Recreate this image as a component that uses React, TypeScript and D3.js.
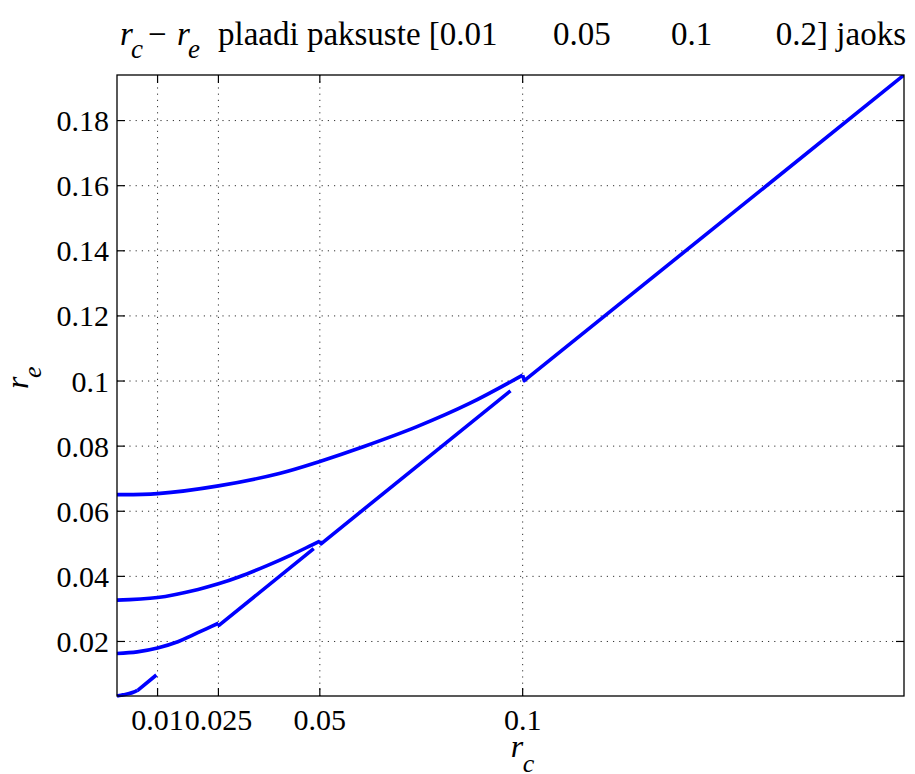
import React from 'react';
import * as d3 from 'd3';

// plate thicknesses t, one r_c - r_e curve each
const thicknesses = [0.01, 0.05, 0.1, 0.2];

// curved part (r_c < t/2) and straight part (r_c >= t/2)
const rcCurveT001 = [0, 0.001, 0.002, 0.003, 0.004, 0.005];
const reCurveT001 = [0.00325, 0.0035, 0.0037, 0.004, 0.0044, 0.005];
const rcLineT001 = [0.0051, 0.0097];
const reLineT001 = [0.005, 0.0097];

const rcCurveT005 = [0, 0.005, 0.01, 0.015, 0.0184, 0.022, 0.025];
const reCurveT005 = [0.0163, 0.0168, 0.018, 0.0199, 0.0218, 0.0239, 0.0256];
const rcLineT005 = [0.0252, 0.0485];
const reLineT005 = [0.025, 0.0485];

const rcCurveT01 = [0, 0.01, 0.02, 0.025, 0.03, 0.037, 0.043, 0.048, 0.05];
const reCurveT01 = [0.0327, 0.0335, 0.036, 0.0377, 0.0398, 0.0433, 0.0466, 0.0496, 0.0508];
const rcLineT01 = [0.0503, 0.097];
const reLineT01 = [0.05, 0.097];

const rcCurveT02 = [0, 0.01, 0.025, 0.04, 0.05, 0.0607, 0.0738, 0.0869, 0.1];
const reCurveT02 = [0.0651, 0.0654, 0.0678, 0.0716, 0.0753, 0.0798, 0.0859, 0.0931, 0.1018];
const rcLineT02 = [0.1004, 0.194];
const reLineT02 = [0.1001, 0.194];

const xTicks = [0.01, 0.025, 0.05, 0.1];
const yTicks = [0.02, 0.04, 0.06, 0.08, 0.1, 0.12, 0.14, 0.16, 0.18];

const W = 915;
const H = 774;
const margin = {top: 75, right: 11, bottom: 78, left: 117};
const FONT = 'Liberation Serif, Times New Roman, Times, DejaVu Serif, serif';

type Pt = [number, number];
const zip = (a: number[], b: number[]): Pt[] => a.map((v, i) => [v, b[i]] as Pt);

export default function App() {
  const width = W - margin.left - margin.right;
  const height = H - margin.top - margin.bottom;

  const xScale = d3.scaleLinear().domain([0, 0.194]).range([0, width]);
  const yScale = d3.scaleLinear().domain([0.00325, 0.194]).range([height, 0]);

  const series = [
    {t: thicknesses[0], curve: zip(rcCurveT001, reCurveT001), straight: zip(rcLineT001, reLineT001)},
    {t: thicknesses[1], curve: zip(rcCurveT005, reCurveT005), straight: zip(rcLineT005, reLineT005)},
    {t: thicknesses[2], curve: zip(rcCurveT01, reCurveT01), straight: zip(rcLineT01, reLineT01)},
    {t: thicknesses[3], curve: zip(rcCurveT02, reCurveT02), straight: zip(rcLineT02, reLineT02)},
  ];

  const smooth = d3.line<Pt>()
    .x(d => xScale(d[0]))
    .y(d => yScale(d[1]))
    .curve(d3.curveCatmullRom.alpha(0.5));
  const straight = d3.line<Pt>()
    .x(d => xScale(d[0]))
    .y(d => yScale(d[1]));

  const fmt = (v: number) => String(+v.toFixed(3));
  const tickLen = 8;
  const font = {fontFamily: FONT};

  return (
    <svg width={W} height={H} style={{position: 'absolute', left: 0, top: 0, background: '#fff'}}>
      <defs>
        <clipPath id="plotClip">
          <rect x={-2} y={0} width={width + 2} height={height + 2} />
        </clipPath>
      </defs>

      {/* title */}
      <g style={font} fill="#000">
        <text x={120} y={45} fontSize={33} fontStyle="italic">r</text>
        <text x={131} y={58} fontSize={27} fontStyle="italic">c</text>
        <text x={148} y={45} fontSize={33}>−</text>
        <text x={177} y={45} fontSize={33} fontStyle="italic">r</text>
        <text x={188} y={58} fontSize={27} fontStyle="italic">e</text>
        <text x={218} y={45} fontSize={33}>plaadi paksuste [0.01</text>
        <text x={553} y={45} fontSize={33}>0.05</text>
        <text x={671} y={45} fontSize={33}>0.1</text>
        <text x={906} y={45} fontSize={33} textAnchor="end">0.2] jaoks</text>
      </g>

      <g transform={`translate(${margin.left},${margin.top})`}>
        {/* grid */}
        <g stroke="#333" strokeWidth={1} strokeDasharray="1.2,5">
          {xTicks.map(v => (
            <line key={'gx' + v} x1={xScale(v)} x2={xScale(v)} y1={0} y2={height} />
          ))}
          {yTicks.map(v => (
            <line key={'gy' + v} x1={0} x2={width} y1={yScale(v)} y2={yScale(v)} />
          ))}
        </g>

        {/* curves */}
        <g clipPath="url(#plotClip)" fill="none" stroke="#0000ff" strokeWidth={3.6} strokeLinejoin="round">
          {series.map(s => (
            <g key={s.t}>
              <path d={smooth(s.curve) || ''} />
              <path d={straight([s.curve[s.curve.length - 1], ...s.straight]) || ''} />
            </g>
          ))}
        </g>

        {/* box and ticks */}
        <rect x={0} y={0} width={width} height={height} fill="none" stroke="#000" strokeWidth={1.3} />
        <g stroke="#000" strokeWidth={1.2}>
          {xTicks.map(v => (
            <g key={'tx' + v}>
              <line x1={xScale(v)} x2={xScale(v)} y1={height} y2={height - tickLen} />
              <line x1={xScale(v)} x2={xScale(v)} y1={0} y2={tickLen} />
            </g>
          ))}
          {yTicks.map(v => (
            <g key={'ty' + v}>
              <line x1={0} x2={tickLen} y1={yScale(v)} y2={yScale(v)} />
              <line x1={width} x2={width - tickLen} y1={yScale(v)} y2={yScale(v)} />
            </g>
          ))}
        </g>

        {/* tick labels */}
        <g style={font} fontSize={30} fill="#000">
          {xTicks.map(v => (
            <text key={'lx' + v} x={xScale(v)} y={height + 34} textAnchor="middle">{fmt(v)}</text>
          ))}
          {yTicks.map(v => (
            <text key={'ly' + v} x={-8} y={yScale(v)} dy="0.35em" textAnchor="end">{fmt(v)}</text>
          ))}
        </g>

        {/* axis labels */}
        <g style={font} fill="#000" fontStyle="italic">
          <text x={xScale(0.1) - 12} y={height + 61} fontSize={32}>r</text>
          <text x={xScale(0.1)} y={height + 76} fontSize={26}>c</text>
          <g transform={`translate(${-89},${yScale(0.1) + 8}) rotate(-90)`}>
            <text x={0} y={0} fontSize={32}>r</text>
            <text x={11} y={13} fontSize={26}>e</text>
          </g>
        </g>
      </g>
    </svg>
  );
}
